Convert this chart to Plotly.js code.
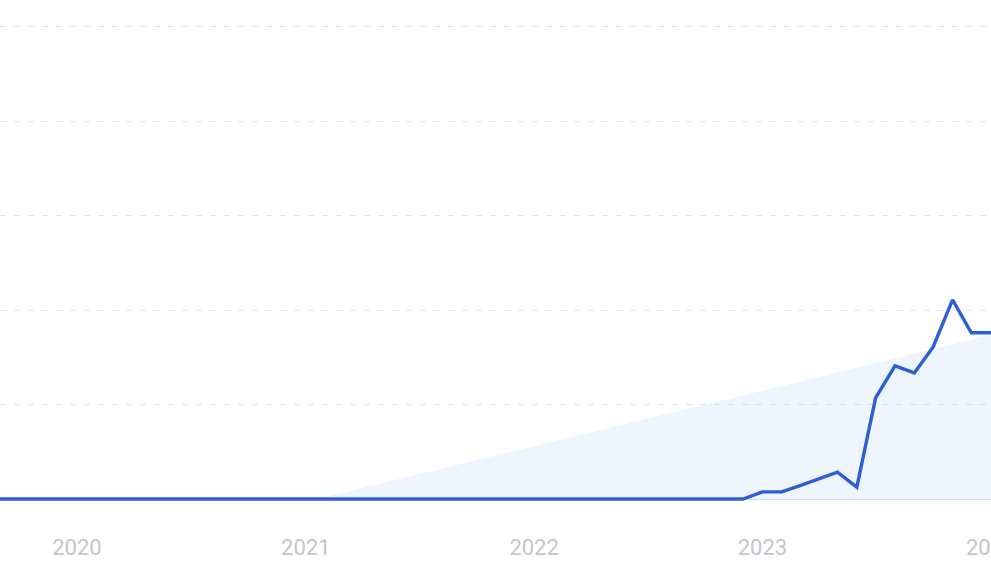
<!DOCTYPE html>
<html>
<head>
<meta charset="utf-8">
<script src="https://cdn.plot.ly/plotly-3.0.1.min.js"></script>
<style>
html,body{margin:0;padding:0;background:#fff;overflow:hidden;}
#chart{width:991px;height:561px;}
</style>
</head>
<body>
<div id="chart"></div>
<script>
// Monthly series (interest index)
const months = [
  '2019-06-01','2019-07-01','2019-08-01','2019-09-01','2019-10-01','2019-11-01','2019-12-01',
  '2020-01-01','2020-02-01','2020-03-01','2020-04-01','2020-05-01','2020-06-01',
  '2020-07-01','2020-08-01','2020-09-01','2020-10-01','2020-11-01','2020-12-01',
  '2021-01-01','2021-02-01','2021-03-01','2021-04-01','2021-05-01','2021-06-01',
  '2021-07-01','2021-08-01','2021-09-01','2021-10-01','2021-11-01','2021-12-01',
  '2022-01-01','2022-02-01','2022-03-01','2022-04-01','2022-05-01','2022-06-01',
  '2022-07-01','2022-08-01','2022-09-01','2022-10-01','2022-11-01','2022-12-01',
  '2023-01-01','2023-02-01','2023-03-01','2023-04-01','2023-05-01','2023-06-01',
  '2023-07-01','2023-08-01','2023-09-01','2023-10-01','2023-11-01','2023-12-01',
  '2024-01-01','2024-02-01'
];
const values = [
  0,0,0,0,0,0,0,
  0,0,0,0,0,0,
  0,0,0,0,0,0,
  0,0,0,0,0,0,
  0,0,0,0,0,0,
  0,0,0,0,0,0,
  0,0,0,0,0,0,
  1.5,1.5,2.8,4.2,5.7,2.5,
  21.4,28.2,26.7,32.2,42.2,35.2,
  35.2,35.2
];
// Linear trend (shaded area)
const trendX = ['2021-01-18','2024-01-03'];
const trendY = [0, 34.8];

const yTicks = [0,20,40,60,80,100];
const xTickStart = '2020-01-01';

const data = [
  {
    x: trendX, y: trendY, type: 'scatter', mode: 'lines',
    line: {width: 0, color: 'rgba(0,0,0,0)'},
    fill: 'tozeroy', fillcolor: 'rgba(205,224,250,0.32)',
    hoverinfo: 'skip'
  },
  {
    x: months, y: values, type: 'scatter', mode: 'lines',
    line: {color: '#2C5ED4', width: 3.4, shape: 'linear'},
    hoverinfo: 'skip'
  }
];

const layout = {
  width: 991, height: 561,
  margin: {l: 0, r: 0, t: 0, b: 59},
  paper_bgcolor: '#ffffff', plot_bgcolor: '#ffffff',
  showlegend: false,
  xaxis: {
    type: 'date',
    range: ['2019-08-31', '2024-01-01 12:00'],
    tick0: xTickStart, dtick: 'M12', tickformat: '%Y',
    showgrid: false, zeroline: false, showline: false,
    ticks: '', ticklabelstandoff: 30, ticklabeloverflow: 'allow',
    tickfont: {family: 'Roboto, Inter, sans-serif', size: 22, color: '#C3C6CC'},
    fixedrange: true
  },
  yaxis: {
    range: [-0.636, 105.7],
    tickvals: yTicks,
    showticklabels: false,
    showgrid: true, gridcolor: '#DCE3EE', gridwidth: 1, griddash: '6px,8px',
    zeroline: true, zerolinecolor: '#D3DDEE', zerolinewidth: 1,
    showline: false, ticks: '',
    fixedrange: true
  }
};

Plotly.newPlot('chart', data, layout, {staticPlot: true, displayModeBar: false});
</script>
</body>
</html>
